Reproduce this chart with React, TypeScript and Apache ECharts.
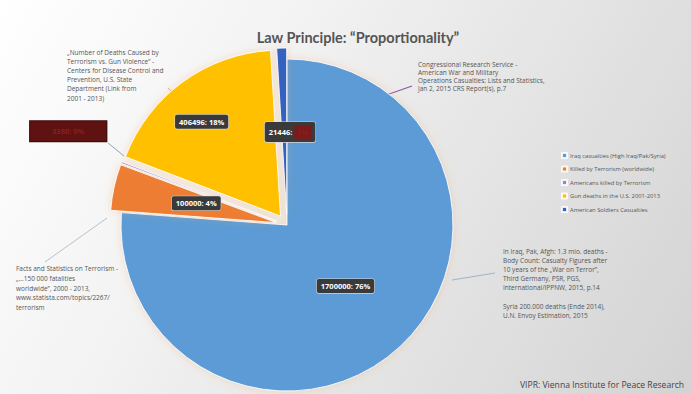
import React, { useEffect, useRef } from "react";
import * as echarts from "echarts";

const categories = [
  "Iraq casualties (High Iraq/Pak/Syria)",
  "Killed by Terrorism (worldwide)",
  "Americans killed by Terrorism",
  "Gun deaths in the U.S. 2001-2013",
  "American Soldiers Casualties",
];
const values = [1700000, 100000, 3380, 406496, 21446];
const colors = ["#5B9BD5", "#ED7D31", "#9B84C8", "#FFC000", "#3462BE"];
const exploded = [false, true, true, true, true];

const titleText = "Law Principle: \u201CProportionality\u201D";
const noteTopLeft = [
  "\u201ENumber of Deaths Caused by",
  "Terrorism vs. Gun Violence\u201D -",
  "Centers for Disease Control and",
  "Prevention, U.S. State",
  "Department (Link from",
  "2001 - 2013)",
];
const noteTopRight = [
  "Congressional Research Service -",
  "American War and Military",
  "Operations Casualties: Lists and Statistics,",
  "Jan 2, 2015 CRS Report(s), p.7",
];
const noteRight = [
  "In Iraq, Pak, Afgh: 1.3 mio. deaths -",
  "Body Count: Casualty Figures after",
  "10 years of the \u201EWar on Terror\u201D,",
  "Third Germany, PSR, PGS,",
  "International/IPPNW, 2015, p.14",
  "",
  "Syria 200.000 deaths (Ende 2014),",
  "U.N. Envoy Estimation, 2015",
];
const noteBottomLeft = [
  "Facts and Statistics on Terrorism -",
  "\u201E...150 000 fatalities",
  "worldwide\u201D, 2000 - 2013,",
  "www.statista.com/topics/2267/",
  "terrorism",
];
const footer = "VIPR: Vienna Institute for Peace Research";

export default function App() {
  const ref = useRef<HTMLDivElement>(null);
  useEffect(() => {
    if (!ref.current) return;
    const chart = echarts.init(ref.current, null, { renderer: "svg" });
    const noteStyle = { fontSize: 6.5, fill: "#555", fontFamily: "Open Sans", lineHeight: 9.1 };
    const fmt = (p: any) => `${p.value}: ${Math.round(p.percent)}%`;
    const data = categories.map((name, i) => {
      const item: any = {
        name,
        value: values[i],
        selected: exploded[i],
        itemStyle: { color: colors[i] },
      };
      if (i === 2) {
        item.label = {
          position: "outside",
          formatter: fmt,
          color: "#8a1f1f",
          backgroundColor: "#5e1212",
          borderColor: "#3a0a0a",
          borderWidth: 1,
          borderRadius: 0,
          padding: [6, 22],
        };
        item.labelLine = { show: false };
      }
      if (i === 4) {
        item.label = {
          formatter: (p: any) => `{a|${p.value}: }{b|${Math.round(p.percent)}%}`,
          rich: {
            a: { color: "#fff", fontSize: 7.5, fontWeight: "bold", fontFamily: "Open Sans" },
            b: { color: "#8a1f1f", backgroundColor: "#7a1a1a", fontSize: 7.5, fontWeight: "bold", padding: [3, 3] },
          },
        };
      }
      return item;
    });
    chart.setOption({
      animation: false,
      backgroundColor: "transparent",
      title: {
        text: titleText,
        left: 353,
        top: 25,
        textAlign: "center",
        textStyle: { fontSize: 14.5, fontWeight: "bold", color: "#555", fontFamily: "Lato" },
      },
      legend: {
        orient: "vertical",
        left: 556,
        top: 147,
        itemWidth: 5,
        itemHeight: 5,
        itemGap: 6.5,
        icon: "rect",
        selectedMode: false,
        textStyle: { fontSize: 5.8, color: "#555", fontFamily: "Open Sans", padding: [0, 0, 0, -2] },
        data: categories,
      },
      series: [
        {
          type: "pie",
          center: [287, 225],
          radius: 166,
          startAngle: 90,
          clockwise: true,
          selectedMode: "multiple",
          selectedOffset: 11,
          avoidLabelOverlap: false,
          emphasis: { disabled: true },
          select: { itemStyle: {} },
          itemStyle: {
            borderColor: "rgba(255,255,255,0.85)",
            borderWidth: 1,
            shadowBlur: 8,
            shadowColor: "rgba(240,170,110,0.35)",
          },
          label: {
            show: true,
            position: "inside",
            formatter: fmt,
            color: "#fff",
            fontSize: 7.5,
            fontWeight: "bold",
            fontFamily: "Open Sans",
            backgroundColor: "#3a3a3a",
            borderColor: "#d8d8d8",
            borderWidth: 0.6,
            borderRadius: 2,
            padding: [3, 4],
          },
          labelLine: { show: false },
          labelLayout: (p: any) => {
            if (p.dataIndex === 3) return { dx: -28, dy: -25 };
            if (p.dataIndex === 0) return { dx: 0, dy: -2 };
            if (p.dataIndex === 1) return { dx: 4, dy: -1 };
            if (p.dataIndex === 2) return { dx: 34, dy: -26 };
            if (p.dataIndex === 4) return { dx: 6, dy: 4 };
            return {};
          },
          data,
        },
      ],
      graphic: [
        { type: "text", left: 67, top: 48, style: { ...noteStyle, text: noteTopLeft.join("\n") } },
        { type: "text", left: 418, top: 61, style: { ...noteStyle, lineHeight: 7.8, text: noteTopRight.join("\n") } },
        { type: "text", left: 503, top: 247, style: { ...noteStyle, text: noteRight.join("\n") } },
        { type: "text", left: 16, top: 264, style: { ...noteStyle, lineHeight: 9.6, text: noteBottomLeft.join("\n") } },
        { type: "text", left: 520, top: 380, style: { fontSize: 8.6, fill: "#444", fontFamily: "Open Sans", text: footer } },
        { type: "line", shape: { x1: 168, y1: 88, x2: 195, y2: 113 }, style: { stroke: "#c9b98a", lineWidth: 1 } },
        { type: "line", shape: { x1: 318, y1: 119, x2: 412, y2: 86 }, style: { stroke: "#8a5aa8", lineWidth: 1.2 } },
        { type: "line", shape: { x1: 108, y1: 143, x2: 124, y2: 156 }, style: { stroke: "#8fa3b8", lineWidth: 1 } },
        { type: "line", shape: { x1: 45, y1: 262, x2: 107, y2: 218 }, style: { stroke: "#b8c0c8", lineWidth: 1 } },
        { type: "line", shape: { x1: 452, y1: 280, x2: 495, y2: 273 }, style: { stroke: "#9fb4c8", lineWidth: 1 } },
      ],
    });
    return () => chart.dispose();
  }, []);
  return (
    <div
      ref={ref}
      style={{
        position: "fixed",
        left: 0,
        top: 0,
        width: 691,
        height: 394,
        background: "linear-gradient(120deg, #ffffff 0%, #f2f2f2 35%, #d3d3d3 100%)",
      }}
    />
  );
}
